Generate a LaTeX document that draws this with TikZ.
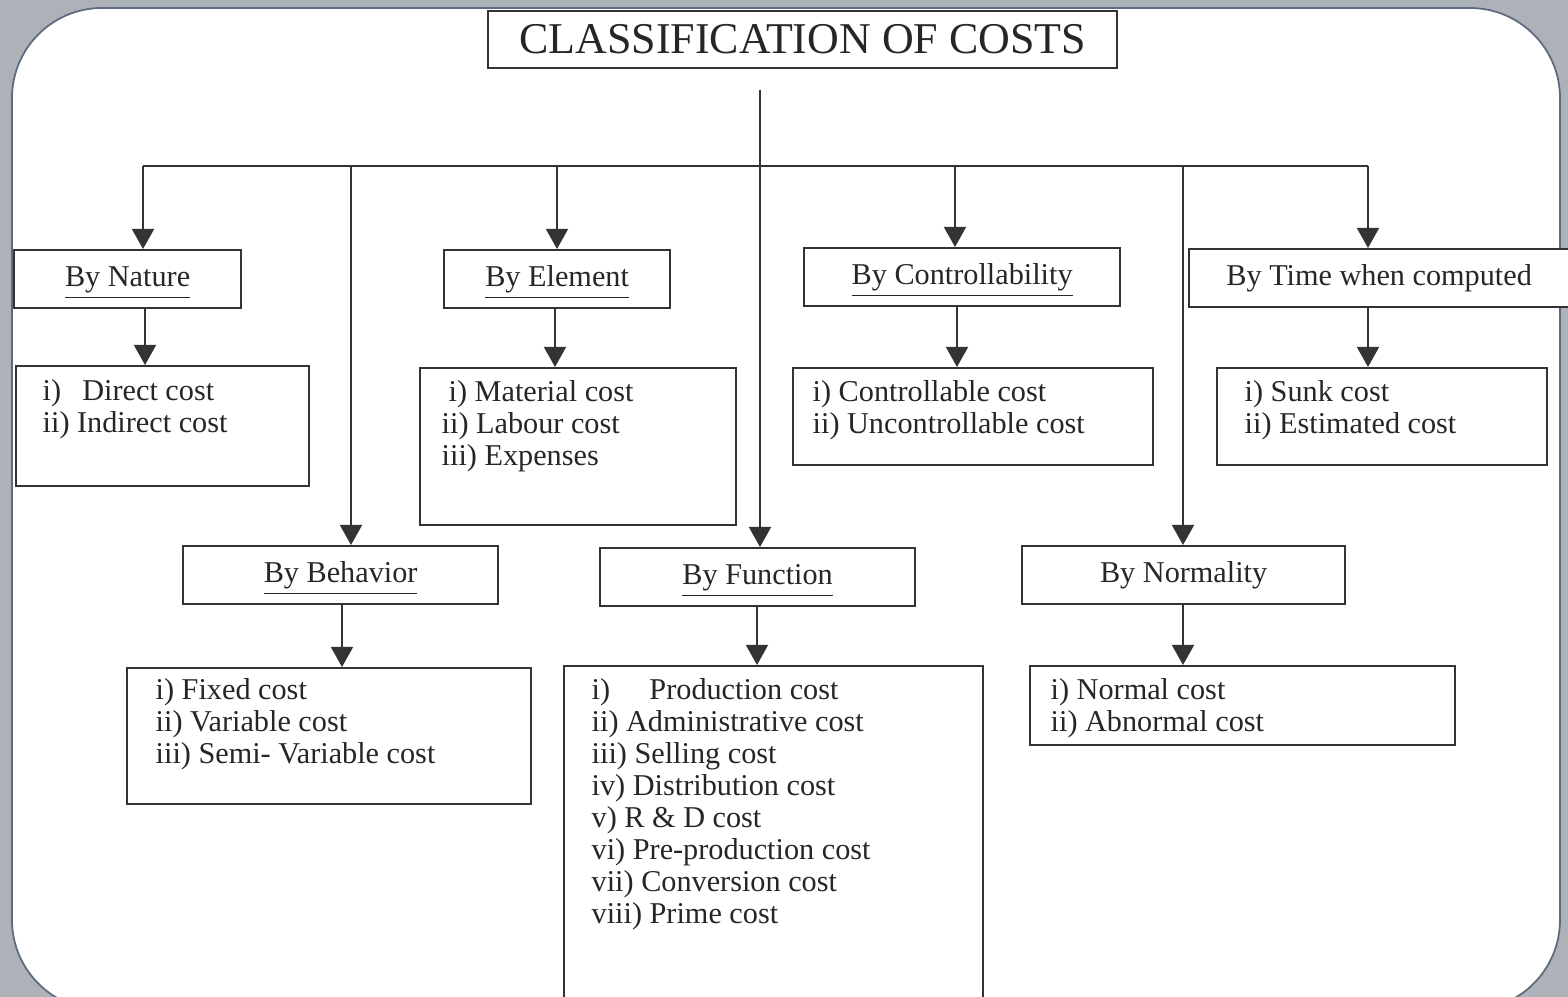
\documentclass[tikz,border=0pt]{standalone}
\usepackage{fontspec}
\setmainfont{Liberation Serif}
\usetikzlibrary{arrows.meta}

\definecolor{framegray}{HTML}{ADB2B9}
\definecolor{frameedge}{HTML}{5C6B7E}
\definecolor{inkgray}{HTML}{333333}

\tikzset{
  costbox/.style={draw=inkgray, line width=0.6pt, fill=white, inner sep=0pt, anchor=north west, text=black!85},
  head/.style={costbox, minimum height=0.58cm, text height=6.5pt, text depth=2.5pt, font=\fontsize{8.6}{10}\selectfont},
  items/.style={anchor=north west, inner sep=0pt, align=left, text=black!85, font=\fontsize{8.6}{9.1}\selectfont},
  conn/.style={draw=inkgray, line width=0.45pt},
  arr/.style={conn, -{Triangle[width=0.22cm,length=0.2cm]}},
}

\begin{document}
\begin{tikzpicture}[x=0.01cm, y=-0.01cm]
\useasboundingbox (0,0) rectangle (1568,997);
\clip (0,0) rectangle (1568,997);

%% frame
\fill[framegray] (0,0) rectangle (1568,997);
\draw[frameedge, fill=white, line width=0.5pt, rounded corners=0.9cm] (12,8) rectangle (1560,1010);

%% title
\node[costbox, minimum width=6.29cm, minimum height=0.57cm, font=\fontsize{12.5}{14}\selectfont](title) at (487,10){CLASSIFICATION OF COSTS};

%% upper row
\node[head, minimum width=2.27cm](by_nature) at (13,249){\underline{By Nature}};
\node[head, minimum width=2.26cm](by_element) at (443,249){\underline{By Element}};
\node[head, minimum width=3.16cm](by_control) at (803,247){\underline{By Controllability}};
\node[head, minimum width=3.80cm](by_time) at (1188,248){By Time when computed};

\node[costbox, minimum width=2.93cm, minimum height=1.20cm](list_nature) at (15,365){};
\node[costbox, minimum width=3.16cm, minimum height=1.57cm](list_element) at (419,367){};
\node[costbox, minimum width=3.60cm, minimum height=0.97cm](list_control) at (792,367){};
\node[costbox, minimum width=3.30cm, minimum height=0.97cm](list_time) at (1216,367){};

\node[items](items_nature) at (42,379){i)\hspace{0.7em}Direct cost\\ ii) Indirect cost};
\node[items](items_element) at (441,380){\hspace*{2pt}i) Material cost\\ ii) Labour cost\\ iii) Expenses};
\node[items](items_control) at (812,380){i) Controllable cost\\ ii) Uncontrollable cost};
\node[items](items_time) at (1244,380){i) Sunk cost\\ ii) Estimated cost};

%% lower row
\node[head, minimum width=3.15cm](by_behavior) at (182,545){\underline{By Behavior}};
\node[head, minimum width=3.15cm](by_function) at (599,547){\underline{By Function}};
\node[head, minimum width=3.23cm](by_normality) at (1021,545){By Normality};

\node[costbox, minimum width=4.04cm, minimum height=1.36cm](list_behavior) at (126,667){};
\node[costbox, minimum width=4.19cm, minimum height=3.45cm](list_function) at (563,665){};
\node[costbox, minimum width=4.25cm, minimum height=0.79cm](list_normality) at (1029,665){};

\node[items](items_behavior) at (155,678){i) Fixed cost\\ ii) Variable cost\\ iii) Semi- Variable cost};
\node[items](items_function) at (591,678){i)\hspace{1.3em}Production cost\\ ii) Administrative cost\\ iii) Selling cost\\ iv) Distribution cost\\ v) R \& D cost\\ vi) Pre-production cost\\ vii) Conversion cost\\ viii) Prime cost};
\node[items](items_normality) at (1050,678){i) Normal cost\\ ii) Abnormal cost};

%% connectors
\coordinate (trunk_top) at (760,90);
\coordinate (drop_nature) at (143,166);
\coordinate (drop_behavior) at (351,166);
\coordinate (drop_element) at (557,166);
\coordinate (drop_control) at (955,166);
\coordinate (drop_normality) at (1183,166);
\coordinate (drop_time) at (1368,166);

\draw[conn] (drop_nature) -- (drop_time);
\draw[arr] (trunk_top) -- (trunk_top |- by_function.north);
\draw[arr] (drop_nature) -- (drop_nature |- by_nature.north);
\draw[arr] (drop_behavior) -- (drop_behavior |- by_behavior.north);
\draw[arr] (drop_element) -- (drop_element |- by_element.north);
\draw[arr] (drop_control) -- (drop_control |- by_control.north);
\draw[arr] (drop_normality) -- (drop_normality |- by_normality.north);
\draw[arr] (drop_time) -- (drop_time |- by_time.north);

\draw[arr] ([xshift=0.02cm]drop_nature |- by_nature.south) -- ([xshift=0.02cm]drop_nature |- list_nature.north);
\draw[arr] ([xshift=-0.02cm]drop_element |- by_element.south) -- ([xshift=-0.02cm]drop_element |- list_element.north);
\draw[arr] ([xshift=0.02cm]drop_control |- by_control.south) -- ([xshift=0.02cm]drop_control |- list_control.north);
\draw[arr] (drop_time |- by_time.south) -- (drop_time |- list_time.north);
\draw[arr] ([xshift=-0.09cm]drop_behavior |- by_behavior.south) -- ([xshift=-0.09cm]drop_behavior |- list_behavior.north);
\draw[arr] ([xshift=-0.03cm]trunk_top |- by_function.south) -- ([xshift=-0.03cm]trunk_top |- list_function.north);
\draw[arr] (drop_normality |- by_normality.south) -- (drop_normality |- list_normality.north);

\end{tikzpicture}
\end{document}
